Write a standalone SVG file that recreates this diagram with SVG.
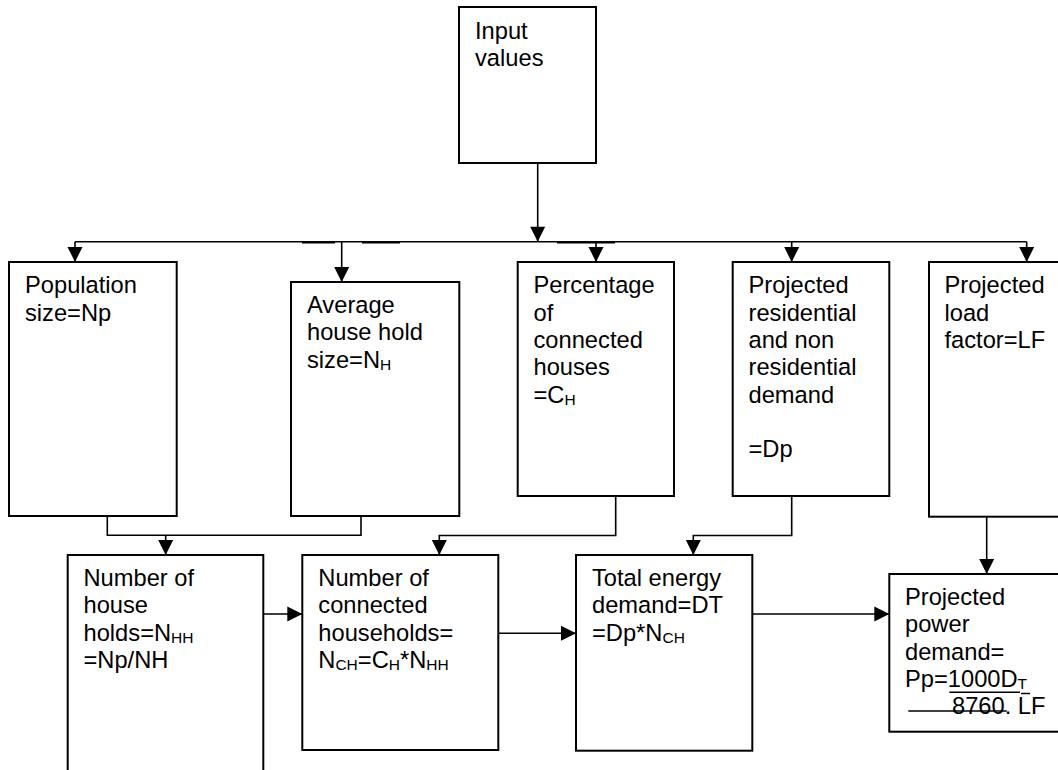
<svg xmlns="http://www.w3.org/2000/svg" width="1058" height="770" viewBox="0 0 1058 770">
  <style>
    .box { fill: #ffffff; stroke: #000000; stroke-width: 2; }
    .lbl { font-family: "Liberation Sans", Arial, sans-serif; font-size: 23.7px; fill: #000000; }
    .sub { font-size: 15.5px; }
    .wire { fill: none; stroke: #000000; stroke-width: 1.6; }
    .arr { fill: none; stroke: #000000; stroke-width: 1.6; marker-end: url(#head); }
    .rule { stroke: #000000; stroke-width: 1.5; }
  </style>
  <defs>
    <marker id="head" markerUnits="userSpaceOnUse" viewBox="0 0 16 16" markerWidth="16" markerHeight="16" refX="15" refY="8" orient="auto" overflow="visible">
      <path d="M0,0.5 L15,8 L0,15.5 z" fill="#000000"/>
    </marker>
  </defs>
  <rect width="1058" height="770" fill="#ffffff"/>

  <!-- connectors -->
  <g id="connectors">
    <line class="arr" x1="537.7" y1="163" x2="537.7" y2="241.7"/>
    <line class="wire" x1="75" y1="241.7" x2="1026.7" y2="241.7"/>
    <!-- doubled stretches of the bus line -->
    <line class="wire" x1="302" y1="242.6" x2="335" y2="242.6"/>
    <line class="wire" x1="362" y1="242.6" x2="400" y2="242.6"/>
    <line class="wire" x1="557" y1="242.6" x2="615" y2="242.6"/>
    <line class="arr" x1="75" y1="241.7" x2="75" y2="262"/>
    <line class="arr" x1="341.7" y1="241.7" x2="341.7" y2="282"/>
    <line class="arr" x1="596" y1="241.7" x2="596" y2="262"/>
    <line class="arr" x1="791.7" y1="241.7" x2="791.7" y2="262"/>
    <line class="arr" x1="1026.7" y1="241.7" x2="1026.7" y2="262"/>

    <path class="wire" d="M107.3,516 V535.3 H361 V516"/>
    <line class="arr" x1="165.7" y1="535.3" x2="165.7" y2="555"/>
    <path class="arr" d="M615.7,496 V535.5 H439.3 V555"/>
    <path class="arr" d="M791.7,496 V535.5 H693.3 V555"/>
    <line class="arr" x1="986.7" y1="516.7" x2="986.7" y2="574"/>

    <line class="arr" x1="263.3" y1="614" x2="302.3" y2="614"/>
    <line class="arr" x1="498.3" y1="633.3" x2="576" y2="633.3"/>
    <line class="arr" x1="752.3" y1="614" x2="889.3" y2="614"/>
  </g>

  <g id="input-values">
    <rect class="box" x="459" y="7" width="137" height="156"/>
    <text class="lbl" x="475" y="39.3">Input</text>
    <text class="lbl" x="475" y="66.3">values</text>
  </g>

  <g id="population-size">
    <rect class="box" x="9" y="262" width="167.7" height="254"/>
    <text class="lbl" x="25" y="293.3">Population</text>
    <text class="lbl" x="25" y="320.6">size=Np</text>
  </g>

  <g id="household-size">
    <rect class="box" x="291" y="282" width="168.3" height="234"/>
    <text class="lbl" x="307" y="313">Average</text>
    <text class="lbl" x="307" y="340.3">house hold</text>
    <text class="lbl" x="307" y="367.6">size=N<tspan class="sub" dy="2.5">H</tspan></text>
  </g>

  <g id="connected-percentage">
    <rect class="box" x="517.7" y="262" width="156.3" height="234"/>
    <text class="lbl" x="533.5" y="293.3">Percentage</text>
    <text class="lbl" x="533.5" y="320.6">of</text>
    <text class="lbl" x="533.5" y="347.9">connected</text>
    <text class="lbl" x="533.5" y="375.2">houses</text>
    <text class="lbl" x="533.5" y="402.5">=C<tspan class="sub" dy="2.5">H</tspan></text>
  </g>

  <g id="projected-demand">
    <rect class="box" x="732.7" y="262" width="156.6" height="234"/>
    <text class="lbl" x="748.5" y="293.3">Projected</text>
    <text class="lbl" x="748.5" y="320.6">residential</text>
    <text class="lbl" x="748.5" y="347.9">and non</text>
    <text class="lbl" x="748.5" y="375.2">residential</text>
    <text class="lbl" x="748.5" y="402.5">demand</text>
    <text class="lbl" x="748.5" y="457.1">=Dp</text>
  </g>

  <g id="load-factor">
    <rect class="box" x="929" y="262" width="141" height="254.7"/>
    <text class="lbl" x="944.5" y="293.3">Projected</text>
    <text class="lbl" x="944.5" y="320.6">load</text>
    <text class="lbl" x="944.5" y="347.9">factor=LF</text>
  </g>

  <g id="households">
    <rect class="box" x="67.7" y="555" width="195.6" height="217"/>
    <text class="lbl" x="83.5" y="586">Number of</text>
    <text class="lbl" x="83.5" y="613.3">house</text>
    <text class="lbl" x="83.5" y="640.6">holds=N<tspan class="sub" dy="2.5">HH</tspan></text>
    <text class="lbl" x="83.5" y="667.9">=Np/NH</text>
  </g>

  <g id="connected-households">
    <rect class="box" x="302.3" y="555" width="196" height="195"/>
    <text class="lbl" x="318.3" y="586">Number of</text>
    <text class="lbl" x="318.3" y="613.3">connected</text>
    <text class="lbl" x="318.3" y="640.6">households=</text>
    <text class="lbl" x="318.3" y="667.9">N<tspan class="sub" dy="2.5">CH</tspan><tspan dy="-2.5">=C</tspan><tspan class="sub" dy="2.5">H</tspan><tspan dy="-2.5">*N</tspan><tspan class="sub" dy="2.5">HH</tspan></text>
  </g>

  <g id="total-energy">
    <rect class="box" x="576" y="555" width="176.3" height="195.7"/>
    <text class="lbl" x="592" y="586">Total energy</text>
    <text class="lbl" x="592" y="613.3">demand=DT</text>
    <text class="lbl" x="592" y="640.6">=Dp*N<tspan class="sub" dy="2.5">CH</tspan></text>
  </g>

  <g id="power-demand">
    <rect class="box" x="889.3" y="574" width="181" height="157.7"/>
    <text class="lbl" x="905" y="605">Projected</text>
    <text class="lbl" x="905" y="632.3">power</text>
    <text class="lbl" x="905" y="659.6">demand=</text>
    <text class="lbl" x="905" y="686.9">Pp=1000D<tspan class="sub" dy="2.5">T</tspan></text>
    <line class="rule" x1="949.3" y1="692.3" x2="1020" y2="692.3"/>
    <line class="rule" x1="1021" y1="693.5" x2="1030" y2="693.5"/>
    <line class="rule" x1="908.3" y1="711" x2="1006.7" y2="711"/>
    <text class="lbl" x="952" y="714.3">8760. LF</text>
  </g>
</svg>
